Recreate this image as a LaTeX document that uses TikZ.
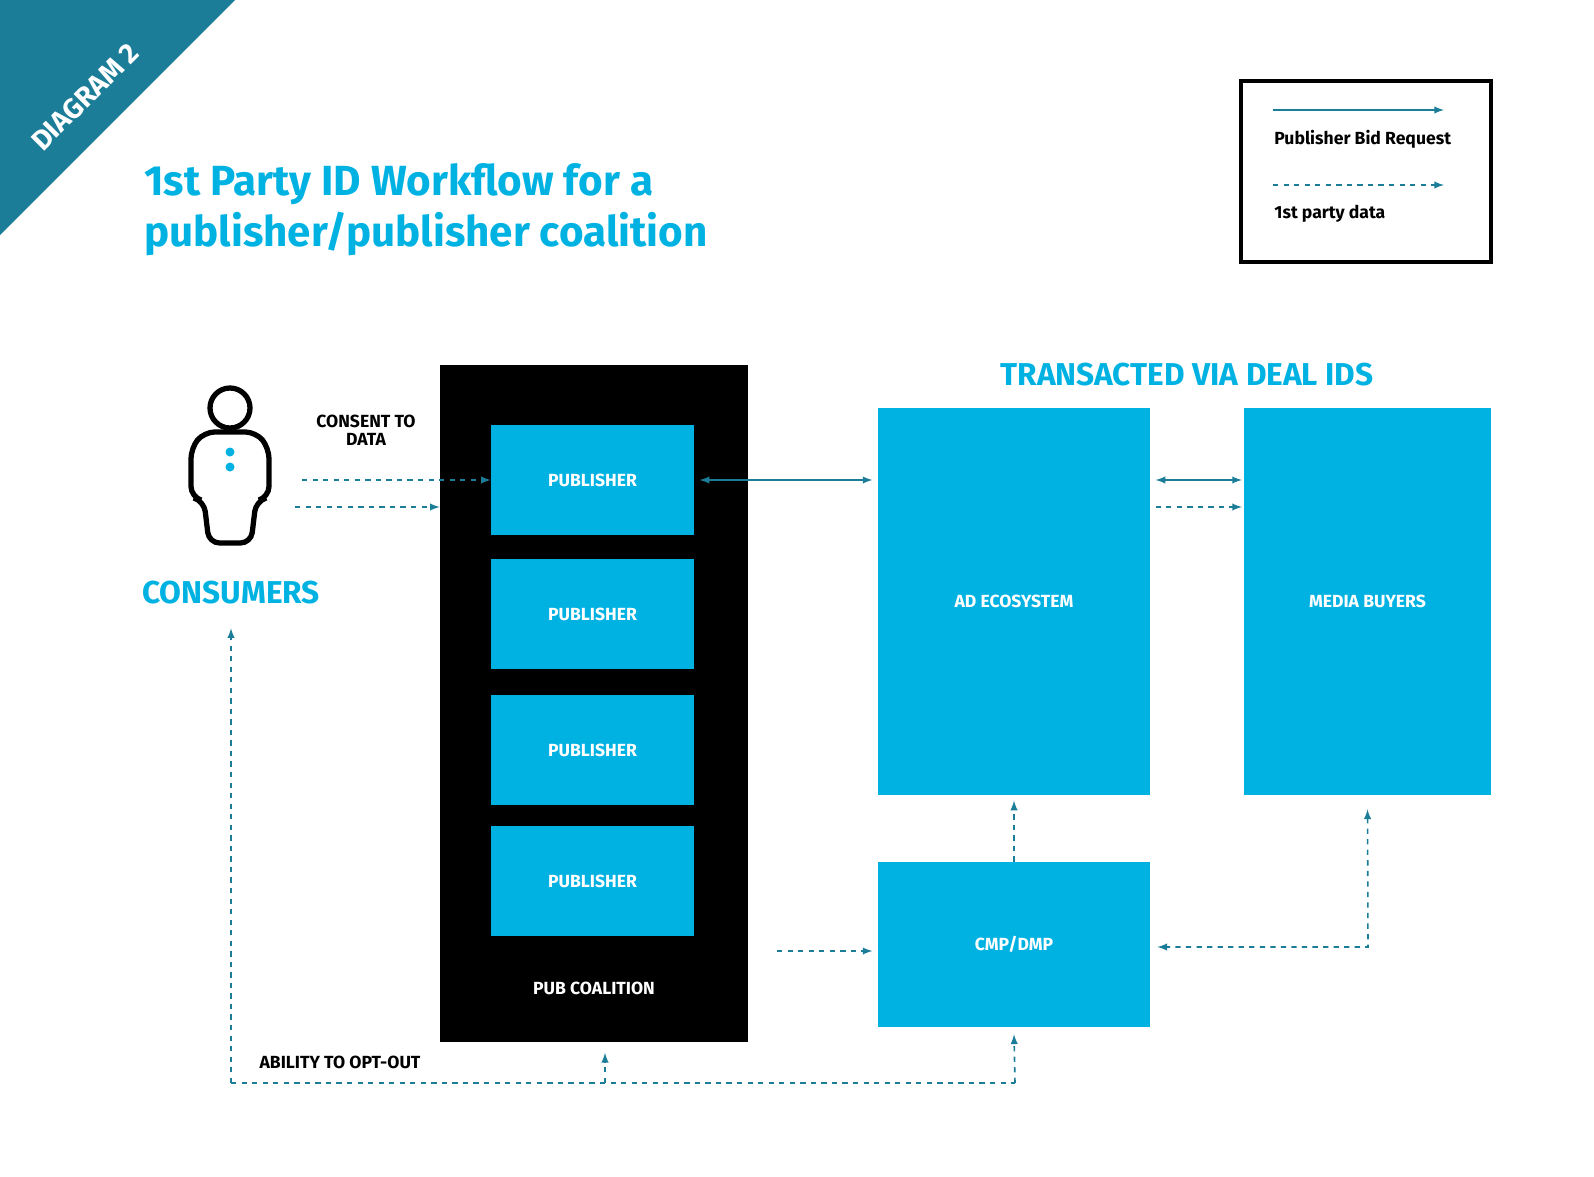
\documentclass[tikz,border=0pt]{standalone}
\usepackage{fontspec}
\setmainfont{Fira Sans}
\usetikzlibrary{arrows}
\definecolor{teal}{HTML}{1B7D98}
\definecolor{sky}{HTML}{00B2E2}
\tikzset{
  box/.style = {rectangle, fill=sky, text=white, font=\fontsize{10}{12}\selectfont\bfseries, inner sep=0pt},
  pub/.style = {box, minimum width=4.06cm, minimum height=2.2cm},
  line/.style = {draw=teal, line width=0.9pt, -latex},
  dline/.style = {line, dashed},
  head/.style = {text=sky, font=\fontsize{18}{22}\selectfont\bfseries},
  lbl/.style = {font=\fontsize{10}{12}\selectfont\bfseries, align=center}
}
\begin{document}
\begin{tikzpicture}[x=0.02cm, y=-0.02cm]
        \useasboundingbox (0,0) rectangle (1594,1176);
        % Corner and title
        \fill[teal] (0,0) -- (235,0) -- (0,235) -- cycle;
        \node[rotate=45, text=white, font=\fontsize{16}{20}\selectfont\bfseries] (tag) at (85,97) {DIAGRAM 2};
        \node[anchor=west, text=sky, font=\fontsize{24}{29}\selectfont\bfseries, align=left] (title) at (138,210)
            {1st Party ID Workflow for a\\publisher/publisher coalition};
        % Legend
        \node[draw, line width=1.8pt, minimum width=5cm, minimum height=3.62cm, inner sep=0pt] (legend) at (1366,171.5) {};
        \coordinate (l1a) at (1273,110); \coordinate (l1b) at (1444,110);
        \coordinate (l2a) at (1273,185); \coordinate (l2b) at (1444,185);
        \path[line] (l1a) -- (l1b);
        \path[dline] (l2a) -- (l2b);
        \node[anchor=west, lbl, inner sep=0pt] (lt1) at (1274,139) {Publisher Bid Request};
        \node[anchor=west, lbl, inner sep=0pt] (lt2) at (1274,214) {1st party data};
        % Consumer
        \draw[line width=3pt] (230,408) circle (20);
        \draw[line width=3pt, rounded corners=6pt] (230,432) -- (256,432) -- (269,448) -- (269,497) -- (256,501)
            -- (251,543) -- (209,543) -- (204,501) -- (191,497) -- (191,448) -- (204,432) -- cycle;
        \fill[sky] (230,452) circle (4.5) (230,467) circle (4.5);
        \node[head] (consumers) at (231,593) {CONSUMERS};
        \node[lbl] (consent) at (366,430) {CONSENT TO\\[-2pt]DATA};
        % Coalition
        \node[fill=black, minimum width=6.16cm, minimum height=13.54cm, inner sep=0pt] (coal) at (594,703.5) {};
        \node[pub] (p1) at (592.5,480) {PUBLISHER};
        \node[pub] (p2) at (592.5,614) {PUBLISHER};
        \node[pub] (p3) at (592.5,750) {PUBLISHER};
        \node[pub] (p4) at (592.5,881) {PUBLISHER};
        \node[text=white, lbl] (pubc) at (594,988) {PUB COALITION};
        % Right side
        \node[head] (deal) at (1187,375) {TRANSACTED VIA DEAL IDS};
        \node[box, minimum width=5.44cm, minimum height=7.74cm] (ad) at (1014,601.5) {AD ECOSYSTEM};
        \node[box, minimum width=4.94cm, minimum height=7.74cm] (mb) at (1367.5,601.5) {MEDIA BUYERS};
        \node[box, minimum width=5.44cm, minimum height=3.3cm] (cmp) at (1014,944.5) {CMP/DMP};
        % Draw edges
        \coordinate (c1) at (302,480); \coordinate (c2) at (295,507);
        \path[dline] (c1) -- (p1.west);
        \path[dline] (c2) -- (coal.west |- c2);
        \path[line, latex-latex] ([xshift=3pt]p1.east) -- ([xshift=-3pt]ad.west |- p1.east);
        \path[line, latex-latex] ([xshift=3pt]ad.east |- p1) -- ([xshift=-1pt]mb.west |- p1);
        \path[dline] ([xshift=3pt]ad.east |- c2) -- ([xshift=-1pt]mb.west |- c2);
        \coordinate (c3) at (777,951);
        \path[dline] (c3) -- ([xshift=-3pt]cmp.west |- c3);
        \path[dline] (cmp.north) -- ([yshift=-3pt]ad.south);
        \coordinate (mbd) at (1368,947);
        \path[dline, latex-latex] ([yshift=-8pt]mb.south) -- (mbd) -- ([xshift=4pt]cmp.east |- mbd);
        % Opt-out
        \coordinate (o1) at (231,1083); \coordinate (o2) at (605,1083); \coordinate (o3) at (1015,1083);
        \path[dline] (o1) -- ([yshift=-10pt]consumers.south);
        \path[draw=teal, line width=0.9pt, dashed] (o1) -- (o3);
        \path[dline] (o2) -- ([yshift=-6pt]coal.south -| o2);
        \path[dline] (o3) -- ([yshift=-4pt]cmp.south);
        \node[lbl] (optout) at (340,1062) {ABILITY TO OPT-OUT};
\end{tikzpicture}
\end{document}
